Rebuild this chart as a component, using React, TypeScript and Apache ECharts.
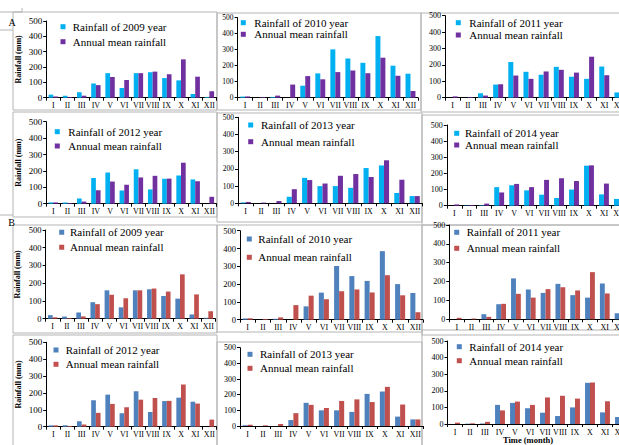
import React, { useEffect, useRef } from "react";
import * as echarts from "echarts";

const months = ["I", "II", "III", "IV", "V", "VI", "VII", "VIII", "IX", "X", "XI", "XII"];
const meanRainfall = [8, 4, 13, 82, 135, 115, 160, 170, 153, 250, 137, 42];
const rain2009 = [20, 12, 35, 93, 160, 64, 160, 166, 128, 113, 24, 5];
const rain2010 = [7, 0, 5, 0, 75, 152, 302, 245, 218, 385, 200, 150];
const rain2011 = [0, 0, 27, 80, 217, 158, 140, 188, 128, 115, 190, 32];
const rain2012 = [8, 8, 32, 157, 190, 80, 210, 87, 152, 172, 148, 0];
const rain2013 = [5, 0, 0, 38, 148, 100, 100, 90, 205, 220, 60, 42];
const rain2014 = [0, 2, 3, 115, 127, 95, 68, 48, 100, 248, 70, 42];
const years = ["2009", "2010", "2011", "2012", "2013", "2014"];
const yearSeries = [rain2009, rain2010, rain2011, rain2012, rain2013, rain2014];
const meanName = "Annual mean rainfall";
const yAxisTitle = "Rainfall (mm)";
const xAxisTitle = "Time (month)";

const schemeA = { year: "#00B0F0", mean: "#7030A0" };
const schemeB = { year: "#4F81BD", mean: "#C0504D" };

const SERIF = '"Liberation Serif", "Times New Roman", serif';

// layout of each panel (pixels)
const panels = [
  { l: 46.2, r: 216.5, t: 21, b: 97.7, mx: 63, y1: 26.7, y2: 41.7, tx: 72.7, yfs: 9, xfs: 8 },
  { l: 237.6, r: 418, t: 17.7, b: 97.7, mx: 243.3, y1: 22.7, y2: 34.3, tx: 254.3, yfs: 7.5, xfs: 8 },
  { l: 445.1, r: 627, t: 15.7, b: 97.7, mx: 458.3, y1: 22.7, y2: 35, tx: 469.3, yfs: 8, xfs: 8 },
  { l: 46.2, r: 216.5, t: 121.7, b: 203.7, mx: 57.3, y1: 131.7, y2: 146, tx: 68.3, yfs: 9, xfs: 8 },
  { l: 238, r: 422.4, t: 117.3, b: 203.3, mx: 250.7, y1: 125, y2: 141.7, tx: 261, yfs: 7.5, xfs: 8 },
  { l: 446.8, r: 626.4, t: 125, b: 205.7, mx: 456.7, y1: 133.3, y2: 145, tx: 465, yfs: 8, xfs: 8 },
  { l: 45.6, r: 215.4, t: 230, b: 318.7, mx: 61.7, y1: 232.3, y2: 247.3, tx: 70, yfs: 8.5, xfs: 8 },
  { l: 240, r: 423, t: 230.7, b: 319.7, mx: 249.3, y1: 239, y2: 257.3, tx: 258.3, yfs: 8.5, xfs: 8 },
  { l: 449.3, r: 627, t: 225, b: 319.3, mx: 456.7, y1: 232.3, y2: 248.3, tx: 466.7, yfs: 8, xfs: 8 },
  { l: 46.2, r: 216.5, t: 342.3, b: 426.7, mx: 56, y1: 350, y2: 364.3, tx: 65.7, yfs: 9, xfs: 8 },
  { l: 240, r: 423, t: 347.7, b: 426, mx: 250, y1: 354.3, y2: 368.3, tx: 260, yfs: 8, xfs: 8 },
  { l: 447.5, r: 627.5, t: 341, b: 424, mx: 459.3, y1: 346.7, y2: 360.7, tx: 469.3, yfs: 8, xfs: 8 },
];

const frames = [
  [13, 12, 204, 98],
  [217, 13, 204, 97],
  [421, 13, 210, 99],
  [13, 112, 204, 105],
  [217, 113, 205, 109],
  [422, 115, 210, 110],
  [13, 225, 204, 108],
  [217, 225, 205, 107],
  [422, 225, 210, 110],
  [13, 335, 204, 120],
  [217, 342, 205, 120],
  [422, 330, 210, 130],
];

export default function App() {
  const ref = useRef<HTMLDivElement>(null);
  useEffect(() => {
    if (!ref.current) return;
    const chart = echarts.init(ref.current, undefined, { renderer: "svg" });
    const grid: any[] = [];
    const xAxis: any[] = [];
    const yAxis: any[] = [];
    const series: any[] = [];
    const graphic: any[] = [];

    frames.forEach(([x, y, w, h]) => {
      graphic.push({
        type: "rect",
        shape: { x, y, width: w, height: h },
        style: { fill: "none", stroke: "#b4b4b4", lineWidth: 1 },
        z: 0,
      });
    });

    panels.forEach((p, i) => {
      const yi = i % 6;
      const scheme = i < 6 ? schemeA : schemeB;
      const leftCol = i % 3 === 0;
      grid.push({
        left: p.l,
        top: p.t,
        width: p.r - p.l,
        height: p.b - p.t,
        containLabel: false,
        outerBoundsMode: "none",
      });
      xAxis.push({
        type: "category",
        gridIndex: i,
        data: months,
        boundaryGap: true,
        axisLine: { show: true, lineStyle: { color: "#000", width: 1 } },
        axisTick: { show: true, length: 3, lineStyle: { color: "#000" } },
        axisLabel: { interval: 0, fontFamily: SERIF, fontSize: p.xfs, color: "#000", margin: 4 },
        splitLine: { show: false },
      });
      yAxis.push({
        type: "value",
        gridIndex: i,
        min: 0,
        max: 500,
        interval: 100,
        axisLine: { show: true, lineStyle: { color: "#000", width: 1 } },
        axisTick: { show: true, length: 3, lineStyle: { color: "#000" } },
        axisLabel: { fontFamily: SERIF, fontSize: p.yfs, color: "#000", margin: 4 },
        splitLine: { show: false },
        name: leftCol ? yAxisTitle : "",
        nameLocation: "middle",
        nameGap: 24,
        nameTextStyle: { fontFamily: SERIF, fontSize: 8, fontWeight: "bold", color: "#000" },
      });
      series.push({
        type: "bar",
        name: "Rainfall of " + years[yi] + " year",
        xAxisIndex: i,
        yAxisIndex: i,
        data: yearSeries[yi],
        itemStyle: { color: scheme.year },
        barGap: "0%",
        barCategoryGap: "34%",
      });
      series.push({
        type: "bar",
        name: meanName,
        xAxisIndex: i,
        yAxisIndex: i,
        data: meanRainfall,
        itemStyle: { color: scheme.mean },
        barGap: "0%",
        barCategoryGap: "34%",
      });
      const items = [
        { y: p.y1, color: scheme.year, text: "Rainfall of " + years[yi] + " year" },
        { y: p.y2, color: scheme.mean, text: meanName },
      ];
      items.forEach((it) => {
        graphic.push({
          type: "rect",
          shape: { x: p.mx - 2.5, y: it.y - 2.5, width: 5, height: 5 },
          style: { fill: it.color },
          z: 10,
        });
        graphic.push({
          type: "text",
          x: p.tx,
          y: it.y,
          style: {
            text: it.text,
            fontFamily: SERIF,
            fontSize: 11,
            fill: "#000",
            verticalAlign: "middle",
          },
          z: 10,
        });
      });
    });

    graphic.push({
      type: "polyline",
      shape: { points: [[0, 12], [22, 12], [22, 8]] },
      style: { stroke: "#b4b4b4", fill: "none", lineWidth: 1 },
    });
    graphic.push({
      type: "line",
      shape: { x1: 0, y1: 30, x2: 13, y2: 30 },
      style: { stroke: "#b4b4b4", lineWidth: 1 },
    });
    graphic.push({
      type: "text",
      x: 12,
      y: 22,
      style: { text: "A", fontFamily: SERIF, fontSize: 10, fill: "#000", align: "center", verticalAlign: "middle" },
    });
    graphic.push({
      type: "line",
      shape: { x1: 0, y1: 215, x2: 13, y2: 215 },
      style: { stroke: "#b4b4b4", lineWidth: 1 },
    });
    graphic.push({
      type: "text",
      x: 11.7,
      y: 222,
      style: { text: "B", fontFamily: SERIF, fontSize: 10, fill: "#000", align: "center", verticalAlign: "middle" },
    });
    graphic.push({
      type: "text",
      x: 528,
      y: 435.5,
      style: { text: xAxisTitle, fontFamily: SERIF, fontSize: 8.5, fontWeight: "bold", fill: "#000", align: "center", verticalAlign: "top" },
    });

    chart.setOption({
      animation: false,
      backgroundColor: "#fff",
      grid,
      xAxis,
      yAxis,
      series,
      graphic,
    });
    return () => chart.dispose();
  }, []);
  return (
    <div
      ref={ref}
      style={{ position: "fixed", left: 0, top: 0, width: 619, height: 445, background: "#fff" }}
    />
  );
}
